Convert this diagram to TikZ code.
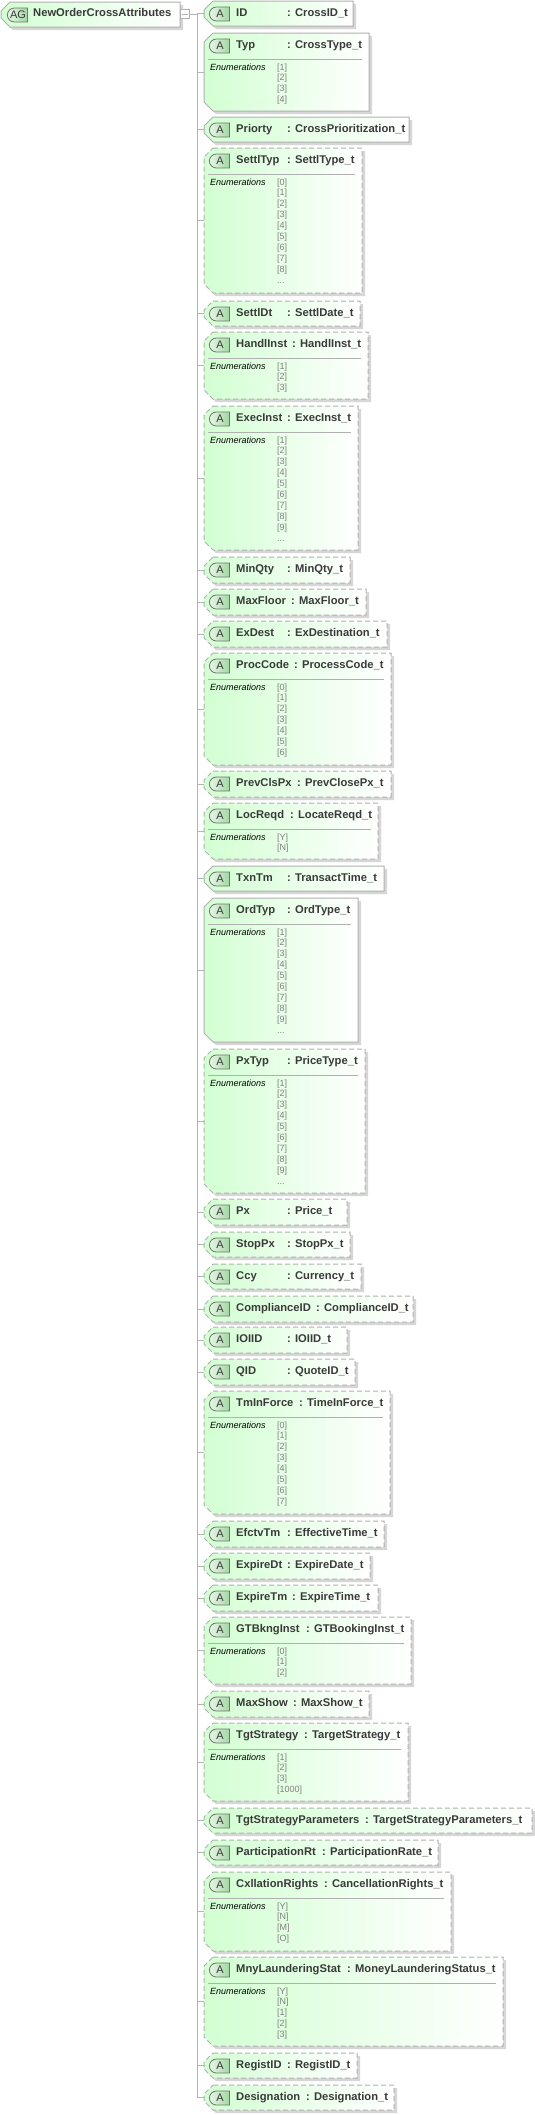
\documentclass[tikz,border=0pt]{standalone}
\usepackage{fontspec}
\setmainfont{Liberation Sans}
\usetikzlibrary{positioning,calc,shapes.misc,shadows}

\definecolor{rulegray}{HTML}{B0B0B0}
\definecolor{tiegray}{HTML}{B4B4B4}
\definecolor{labelink}{HTML}{3A3A3A}
\definecolor{boxgreen}{HTML}{D2FFD2}
\definecolor{tagdark}{HTML}{A3D6A3}
\definecolor{taglight}{HTML}{E6F7E6}

% outline with the two cut corners on the left
\newcommand{\attrshell}[2]{
    \draw[attrshape,#1] ([xshift=9pt]#2.north west) -- (#2.north east) -- (#2.south east)
        -- ([xshift=9pt]#2.south west) -- ([yshift=9pt]#2.south west)
        -- ([yshift=-9pt]#2.north west) -- cycle;
}
% one attribute row, #1 is solid or optbox
\newcommand{\attr}[8][solid]{
    \node[attrbox,minimum width={(#5-204)*1pt},minimum height={(#4-#3)*1pt}] (#2) at (204,#3) {};
    \draw[tie] (#2.west -| trunktop) -- (#2.west);
    \attrshell{#1}{#2}
    \node[attrtag] (#2-tag) at (209,{#3+13}) {A};
    \node[attrtext] (#2-name) at (236,{#3+15}) {#7};
    \node[attrtext] (#2-type) at (#6,{#3+15}) {: #8};
}
% the enumeration part under a row
\newcommand{\attrenum}[4]{
    \draw[enumrule] (208,{#2+26}) -- ({#3-7},{#2+26});
    \node[enumhead] (#1-enum) at (210,{#2+37}) {Enumerations};
    \foreach \val [count=\i] in {#4} {
        \node[enumval] (#1-val\i) at (277,{#2+37+(\i-1)*10.9}) {\val};
    }
}
\newcommand{\enumdots}{...}

\begin{document}
\begin{tikzpicture}[
    x=1pt,y=-1pt,
    attrbox/.style={rectangle,anchor=north west,inner sep=0pt,outer sep=0pt},
    attrshape/.style={draw=rulegray,line width=1pt,left color=boxgreen,right color=white,
        drop shadow={shadow xshift=3pt,shadow yshift=-3pt,fill=black!16,opacity=1}},
    optbox/.style={dash pattern=on 5pt off 3pt},
    attrtag/.style={rounded rectangle,rounded rectangle right arc=none,anchor=west,draw=black!55,line width=.8pt,
        minimum width=20pt,minimum height=14pt,inner sep=0pt,left color=taglight,right color=tagdark,
        text=labelink,font=\fontsize{11}{11}\selectfont},
    attrtext/.style={anchor=base west,inner sep=0pt,text=labelink,font=\fontsize{11.2}{11.2}\selectfont\bfseries},
    enumrule/.style={draw=rulegray,line width=.8pt},
    enumhead/.style={anchor=base west,inner sep=0pt,font=\fontsize{9}{9}\selectfont\itshape},
    enumval/.style={anchor=base west,inner sep=0pt,text=black!50,font=\fontsize{9}{9}\selectfont},
    tie/.style={draw=tiegray,line width=.9pt}
]
    \useasboundingbox[fill=white] (0,0) rectangle (535,2115);

    % group node on the left
    \node[attrbox,minimum width=179pt,minimum height=25pt] (root) at (1,2) {};
    \attrshell{solid}{root}
    \node[attrtag] (root-tag) at (7,15) {AG};
    \node[attrtext] (root-name) at (33,16) {NewOrderCrossAttributes};
    \node[draw=rulegray,fill=white,line width=.8pt,minimum size=9pt,inner sep=0pt,anchor=west] (expander) at (180,14) {};
    \draw[tie,shorten <=2pt,shorten >=2pt] (expander.west) -- (expander.east);
    \coordinate (trunktop) at (197,14);
    \draw[tie] (expander.east) -- (trunktop);

    \attr{id}{1}{26}{353}{287}{ID}{CrossID\_t}
    \attr{typ}{33}{111}{369}{287}{Typ}{CrossType\_t}
    \attrenum{typ}{33}{369}{[1],[2],[3],[4]}
    \attr{priorty}{117}{142}{409}{287}{Priorty}{CrossPrioritization\_t}
    \attr[optbox]{settltyp}{148}{293}{362}{287}{SettlTyp}{SettlType\_t}
    \attrenum{settltyp}{148}{362}{[0],[1],[2],[3],[4],[5],[6],[7],[8],\enumdots}
    \attr[optbox]{settldt}{301}{326}{360}{287}{SettlDt}{SettlDate\_t}
    \attr[optbox]{handlinst}{332}{399}{368}{292}{HandlInst}{HandlInst\_t}
    \attrenum{handlinst}{332}{368}{[1],[2],[3]}
    \attr[optbox]{execinst}{406}{550}{358}{287}{ExecInst}{ExecInst\_t}
    \attrenum{execinst}{406}{358}{[1],[2],[3],[4],[5],[6],[7],[8],[9],\enumdots}
    \attr[optbox]{minqty}{557}{583}{350}{287}{MinQty}{MinQty\_t}
    \attr[optbox]{maxfloor}{589}{615}{366}{291}{MaxFloor}{MaxFloor\_t}
    \attr[optbox]{exdest}{621}{647}{387}{287}{ExDest}{ExDestination\_t}
    \attr[optbox]{proccode}{653}{765}{391}{294}{ProcCode}{ProcessCode\_t}
    \attrenum{proccode}{653}{391}{[0],[1],[2],[3],[4],[5],[6]}
    \attr[optbox]{prevclspx}{771}{797}{391}{297}{PrevClsPx}{PrevClosePx\_t}
    \attr[optbox]{locreqd}{803}{859}{378}{290}{LocReqd}{LocateReqd\_t}
    \attrenum{locreqd}{803}{378}{[Y],[N]}
    \attr{txntm}{866}{891}{384}{287}{TxnTm}{TransactTime\_t}
    \attr{ordtyp}{898}{1042}{358}{287}{OrdTyp}{OrdType\_t}
    \attrenum{ordtyp}{898}{358}{[1],[2],[3],[4],[5],[6],[7],[8],[9],\enumdots}
    \attr[optbox]{pxtyp}{1049}{1193}{365}{287}{PxTyp}{PriceType\_t}
    \attrenum{pxtyp}{1049}{365}{[1],[2],[3],[4],[5],[6],[7],[8],[9],\enumdots}
    \attr[optbox]{px}{1199}{1225}{347}{287}{Px}{Price\_t}
    \attr[optbox]{stoppx}{1232}{1257}{350}{287}{StopPx}{StopPx\_t}
    \attr[optbox]{ccy}{1264}{1289}{361}{287}{Ccy}{Currency\_t}
    \attr[optbox]{complianceid}{1296}{1322}{413}{316}{ComplianceID}{ComplianceID\_t}
    \attr[optbox]{ioiid}{1327}{1353}{347}{287}{IOIID}{IOIID\_t}
    \attr[optbox]{qid}{1359}{1385}{355}{287}{QID}{QuoteID\_t}
    \attr[optbox]{tminforce}{1391}{1514}{390}{299}{TmInForce}{TimeInForce\_t}
    \attrenum{tminforce}{1391}{390}{[0],[1],[2],[3],[4],[5],[6],[7]}
    \attr[optbox]{efctvtm}{1521}{1547}{384}{287}{EfctvTm}{EffectiveTime\_t}
    \attr[optbox]{expiredt}{1553}{1579}{370}{287}{ExpireDt}{ExpireDate\_t}
    \attr[optbox]{expiretm}{1585}{1611}{378}{292}{ExpireTm}{ExpireTime\_t}
    \attr[optbox]{gtbknginst}{1617}{1684}{411}{306}{GTBkngInst}{GTBookingInst\_t}
    \attrenum{gtbknginst}{1617}{411}{[0],[1],[2]}
    \attr[optbox]{maxshow}{1691}{1717}{369}{293}{MaxShow}{MaxShow\_t}
    \attr[optbox]{tgtstrategy}{1723}{1801}{408}{304}{TgtStrategy}{TargetStrategy\_t}
    \attrenum{tgtstrategy}{1723}{408}{[1],[2],[3],[1000]}
    \attr[optbox]{tgtparams}{1808}{1833}{532}{365}{TgtStrategyParameters}{TargetStrategyParameters\_t}
    \attr[optbox]{participationrt}{1840}{1865}{438}{322}{ParticipationRt}{ParticipationRate\_t}
    \attr[optbox]{cxllationrights}{1872}{1951}{451}{324}{CxllationRights}{CancellationRights\_t}
    \attrenum{cxllationrights}{1872}{451}{[Y],[N],[M],[O]}
    \attr[optbox]{mnylaunderingstat}{1957}{2046}{503}{347}{MnyLaunderingStat}{MoneyLaunderingStatus\_t}
    \attrenum{mnylaunderingstat}{1957}{503}{[Y],[N],[1],[2],[3]}
    \attr[optbox]{registid}{2053}{2078}{357}{287}{RegistID}{RegistID\_t}
    \attr[optbox]{designation}{2085}{2110}{394}{306}{Designation}{Designation\_t}

    % the trunk joins all rows
    \draw[tie] (trunktop) -- (designation.west -| trunktop);
\end{tikzpicture}
\end{document}
